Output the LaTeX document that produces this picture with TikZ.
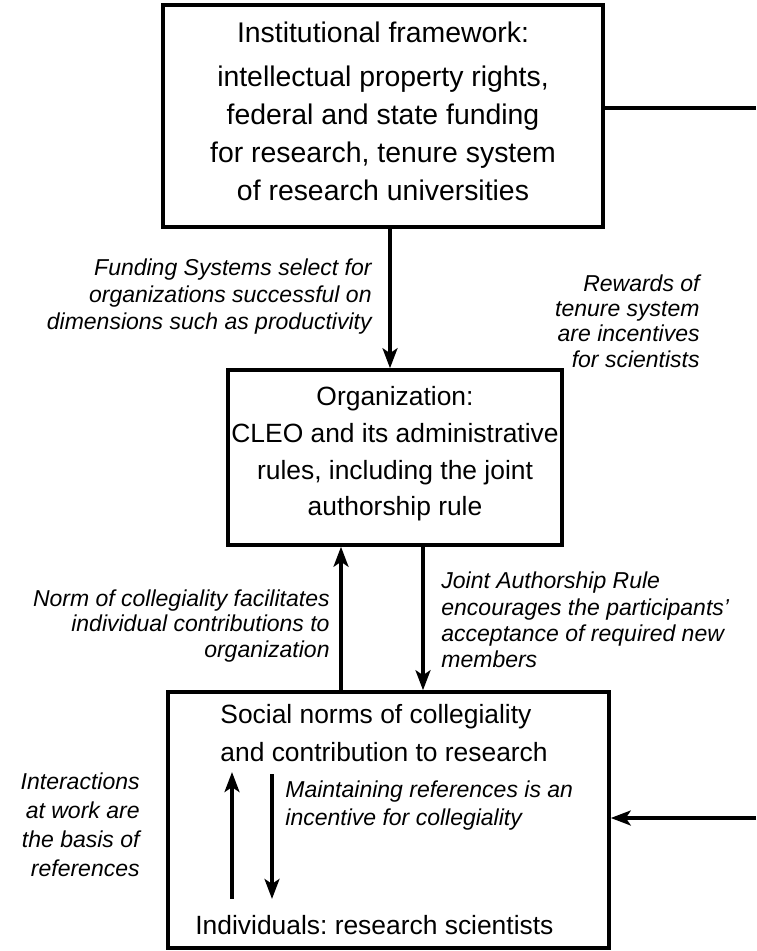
\documentclass[tikz,border=0pt]{standalone}
\usepackage{fontspec}
\setmainfont{Liberation Sans}
\usetikzlibrary{arrows.meta}
\frenchspacing

\tikzset{
  frame/.style={draw, line width=1.8pt, inner sep=0pt},
  boxtext/.style={inner sep=0pt, align=center, font=\fontsize{13.2}{19}\selectfont},
  note/.style={inner sep=0pt, font=\fontsize{11.5}{12.7}\selectfont\itshape},
  arr/.style={line width=1.6pt, -{Stealth[length=10pt,width=7.5pt,inset=2.5pt]}},
}

\begin{document}
\begin{tikzpicture}[x=0.5pt,y=-0.5pt]
  %%%%% START %%%%%
  \useasboundingbox (0,0) rectangle (756,951);

  % institutional framework
  \node[frame, minimum width=220pt, minimum height=111pt] (inst) at (383,116) {};
  \node[boxtext, font=\fontsize{14.2}{19}\selectfont] (insttext) at (383,111) {Institutional framework:\\[3pt]
    intellectual property rights,\\ federal and state funding\\
    for research, tenure system\\ of research universities};

  % organization
  \node[frame, minimum width=167pt, minimum height=87.5pt] (org) at (395,457.5) {};
  \node[boxtext, font=\fontsize{13.2}{18.3}\selectfont] (orgtext) at (395,454) {Organization:\\ CLEO and its administrative\\
    rules, including the joint\\ authorship rule};

  % social norms and individuals
  \node[frame, minimum width=220.5pt, minimum height=128pt] (soc) at (388.5,820) {};
  \node[boxtext, align=left, anchor=west] (norms) at (220,733)
    {Social norms of collegiality\\ and contribution to research};
  \node[boxtext, anchor=west] (indiv) at (195,925) {Individuals: research scientists};

  % labels
  \node[note, align=right, anchor=east, font=\fontsize{11.5}{13.5}\selectfont\itshape] (funding) at (372,297)
    {Funding Systems select for\\ organizations successful on\\ dimensions such as productivity};
  \node[note, align=right, anchor=east] (rewards) at (700,321)
    {Rewards of\\ tenure system\\ are incentives\\ for scientists};
  \node[note, align=right, anchor=east] (normlab) at (330,626)
    {Norm of collegiality facilitates\\ individual contributions to\\ organization};
  \node[note, align=left, anchor=west, font=\fontsize{11.5}{13.2}\selectfont\itshape] (jointlab) at (441,620)
    {Joint Authorship Rule\\ encourages the participants'\\ acceptance of required new\\ members};
  \node[note, align=right, anchor=east, font=\fontsize{11.5}{14.5}\selectfont\itshape] (interlab) at (140,825)
    {Interactions\\ at work are\\ the basis of\\ references};
  \node[note, align=left, anchor=west, font=\fontsize{11.5}{14}\selectfont\itshape] (mainlab) at (285,806)
    {Maintaining references is an\\ incentive for collegiality};

  % connectors
  \coordinate (rtop) at (756,108);
  \coordinate (rbot) at (756,818);
  \coordinate (fundx) at (390,0);
  \coordinate (normx) at (341,0);
  \coordinate (jointx) at (423,0);
  \coordinate (upx) at (232,0);
  \coordinate (downx) at (272,0);

  \draw[line width=1.6pt] (inst.east |- rtop) -- (rtop);
  \draw[arr] (rbot) -- (soc.east |- rbot);
  \draw[arr] (inst.south -| fundx) -- (org.north -| fundx);
  \draw[arr] (soc.north -| normx) -- (org.south -| normx);
  \draw[arr] (org.south -| jointx) -- (soc.north -| jointx);
  \draw[arr, shorten <=8pt, shorten >=5pt] (indiv.north -| upx) -- (norms.south -| upx);
  \draw[arr, shorten <=6pt, shorten >=8pt] (norms.south -| downx) -- (indiv.north -| downx);
  %%%%% END %%%%%
\end{tikzpicture}
\end{document}
